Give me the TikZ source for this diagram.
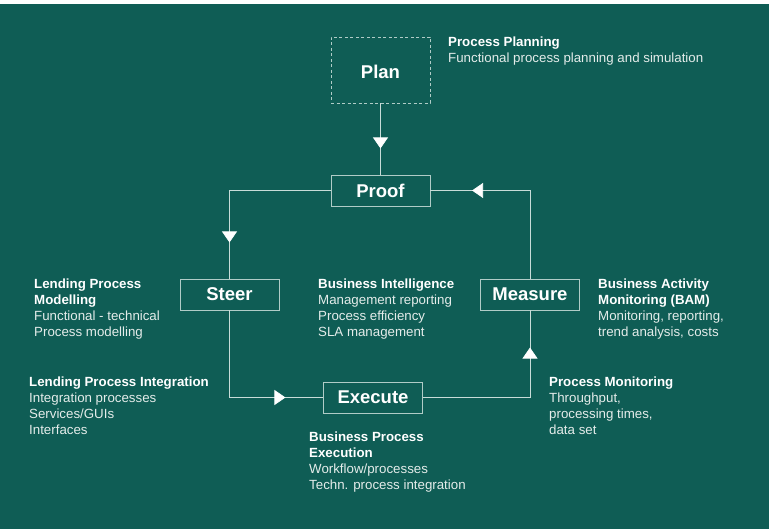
\documentclass[tikz,border=0pt]{standalone}
\usepackage{fontspec}
\setmainfont{Liberation Sans}
\usetikzlibrary{arrows.meta,decorations.markings}
\definecolor{tealbg}{HTML}{0F5D55}
\definecolor{wireclr}{HTML}{C8DCD8}
\definecolor{boxclr}{HTML}{B0CCC7}
\definecolor{txtclr}{HTML}{E4ECEA}

\tikzset{
  phase/.style={draw=boxclr, line width=0.9pt, minimum width=99pt, minimum height=31pt,
    inner sep=0pt, text=white, font=\fontsize{18.5}{20}\selectfont\bfseries},
  note/.style={anchor=north west, align=left, inner sep=0pt, text=txtclr,
    font=\fontsize{13.3}{16}\selectfont},
  wire/.style={draw=wireclr, line width=0.7pt},
  tipat/.style={postaction={decorate}, decoration={markings,
    mark=at position #1 with {\arrow[white]{Triangle[width=15pt,length=11pt]}}}}
}
\newcommand{\hd}[1]{\textcolor{white}{\bfseries #1}}

\begin{document}
\begin{tikzpicture}[x=1pt,y=-1pt]
	    \fill[tealbg] (0,0) rectangle (769,529);
	    \fill[white] (0,0) rectangle (769,4);
	    \useasboundingbox (0,0) rectangle (769,529);

	    % the five phases
	    \node[phase, minimum height=66pt, dash pattern=on 3pt off 2.5pt] (plan) at (380.5,70) {};
	    \node[text=white, font=\fontsize{18.5}{20}\selectfont\bfseries] (plantitle) at (380.5,71.5) {Plan};
	    \node[phase] (proof) at (380.5,190.5) {Proof};
	    \node[phase] (steer) at (229.5,294.5) {Steer};
	    \node[phase] (measure) at (530,294.5) {Measure};
	    \node[phase] (execute) at (373,397.5) {Execute};

	    % connectors
	    \draw[wire, tipat=45pt] (plan.south) -- (proof.north);
	    \draw[wire, tipat=146pt] (measure.north) |- (proof.east);
	    \draw[wire, tipat=153pt] (proof.west) -| (steer.north);
	    \draw[wire, tipat=143pt] (steer.south) |- (execute.west);
	    \draw[wire, tipat=157pt] (execute.east) -| (measure.south);

	    % descriptions
	    \node[note] (plantxt) at (448,36.5) {\hd{Process Planning}\\Functional process planning and simulation};
	    \node[note] (modeltxt) at (34,278.5) {\hd{Lending Process}\\\hd{Modelling}\\Functional - technical\\Process modelling};
	    \node[note] (intgtxt) at (29,376.5) {\hd{Lending Process Integration}\\Integration processes\\Services/GUIs\\Interfaces};
	    \node[note] (bitxt) at (318,278.5) {\hd{Business Intelligence}\\Management reporting\\Process efficiency\\SLA management};
	    \node[note] (bamtxt) at (598,278.5) {\hd{Business Activity}\\\hd{Monitoring (BAM)}\\Monitoring, reporting,\\trend analysis, costs};
	    \node[note] (montxt) at (549,376.5) {\hd{Process Monitoring}\\Throughput,\\processing times,\\data set};
	    \node[note] (exectxt) at (309,431.5) {\hd{Business Process}\\\hd{Execution}\\Workflow/processes\\Techn. process integration};
\end{tikzpicture}
\end{document}
